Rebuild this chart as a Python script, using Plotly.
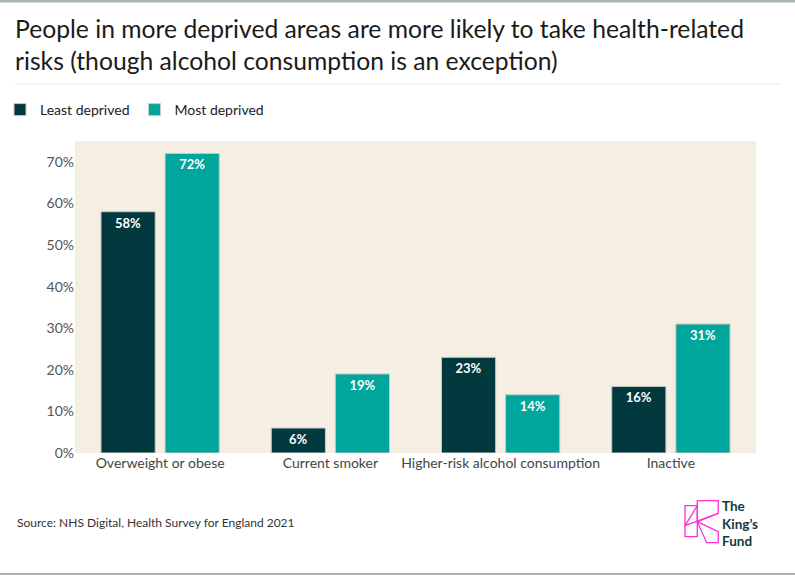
import plotly.graph_objects as go

categories = ["Overweight or obese", "Current smoker", "Higher-risk alcohol consumption", "Inactive"]
least_deprived = [58, 6, 23, 16]
most_deprived = [72, 19, 14, 31]
series_names = ["Least deprived", "Most deprived"]

W, H = 795, 575
L, R, T, B = 75, 39, 141, 122
PW, PH = W - L - R, H - T - B

DARK = "#02393e"
TEAL = "#00a69c"
BG = "#f5eee3"
PINK = "#ff2fd0"
FONT = "Lato"


def px(x, y):
    # pixel position in the page -> paper coordinates
    return (x - L) / PW, (H - B - y) / PH


def path(points):
    pts = [px(x, y) for x, y in points]
    return "M" + " L".join(f"{a:.4f},{b:.4f}" for a, b in pts) + " Z"


fig = go.Figure()
for name, vals, color in [(series_names[0], least_deprived, DARK),
                          (series_names[1], most_deprived, TEAL)]:
    fig.add_trace(go.Bar(
        x=categories, y=vals, name=name,
        marker=dict(color=color, line=dict(color="#c9c9c4", width=1)),
        text=[f"{v}%" for v in vals],
        textposition="inside", insidetextanchor="end",
        textfont=dict(family=FONT, size=13, color="white", weight="bold"),
        hovertemplate="%{x}: %{y}%<extra>" + name + "</extra>",
    ))

shapes = [
    # top and bottom rules
    dict(type="rect", xref="paper", yref="paper", x0=px(0, 0)[0], x1=px(W, 0)[0],
         y0=px(0, 0)[1], y1=px(0, 2.5)[1], fillcolor="#aab3b9", line=dict(width=0)),
    dict(type="rect", xref="paper", yref="paper", x0=px(0, 0)[0], x1=px(W, 0)[0],
         y0=px(0, 573)[1], y1=px(0, 575)[1], fillcolor="#aab3b9", line=dict(width=0)),
    # separator under title
    dict(type="line", xref="paper", yref="paper", x0=px(15, 0)[0], x1=px(781, 0)[0],
         y0=px(0, 84)[1], y1=px(0, 84)[1], line=dict(color="#f1ebdd", width=1)),
]
# King's Fund logo outline
logo = [
    [(685, 505.7), (697.3, 505.7), (697.3, 536.7), (685, 536.7)],
    [(697.3, 500.7), (718.3, 500.7), (718.3, 513.3), (697.3, 521.7)],
    [(697.3, 521.7), (718.3, 531.7), (718.3, 542.7), (706.7, 542.7)],
]
for poly in logo:
    shapes.append(dict(type="path", xref="paper", yref="paper", path=path(poly),
                       line=dict(color=PINK, width=1.3)))
a, b = px(685, 525.7)
c, d = px(718.3, 513.3)
shapes.append(dict(type="line", xref="paper", yref="paper", x0=a, y0=b, x1=c, y1=d,
                   line=dict(color=PINK, width=1.3)))
a2, b2 = px(697.3, 505.7)
shapes.append(dict(type="line", xref="paper", yref="paper", x0=a, y0=b, x1=a2, y1=b2,
                   line=dict(color=PINK, width=1.3)))

sx, sy = px(15, 522)
lx, ly = px(721, 523)
annotations = [
    dict(text="Source: NHS Digital, Health Survey for England 2021",
         xref="paper", yref="paper", x=sx, y=sy, xanchor="left", yanchor="middle",
         showarrow=False, font=dict(family=FONT, size=12, color="#333333")),
    dict(text="<b>The<br>King’s<br>Fund</b>", xref="paper", yref="paper",
         x=lx, y=ly, xanchor="left", yanchor="middle", align="left", showarrow=False,
         borderpad=0, font=dict(family=FONT, size=13.5, color="#0f3a3c")),
]

fig.update_layout(
    width=W, height=H,
    margin=dict(l=L, r=R, t=T, b=B, autoexpand=False),
    paper_bgcolor="white",
    plot_bgcolor=BG,
    font=dict(family=FONT, size=14, color="#444444"),
    title=dict(
        text="People in more deprived areas are more likely to take health-related<br>"
             "risks (though alcohol consumption is an exception)",
        x=15 / W, xanchor="left", y=1 - 38 / H, yanchor="top",
        font=dict(family=FONT, size=24.7, color="#1b1b1b"),
    ),
    barmode="group", bargap=0.247, bargroupgap=0.155,
    legend=dict(orientation="h", xref="container", yref="container",
                x=0, xanchor="left", y=1 - 94 / H, yanchor="top",
                font=dict(family=FONT, size=14, color="#222222"),
                itemclick=False, traceorder="normal", bgcolor="rgba(0,0,0,0)"),
    xaxis=dict(showgrid=False, showline=False, ticks="",
               tickfont=dict(family=FONT, size=14, color="#444444")),
    yaxis=dict(range=[0, 75], dtick=10, ticksuffix="%", showgrid=False, zeroline=False,
               showline=False, ticks="", tickfont=dict(family=FONT, size=14, color="#555555")),
    shapes=shapes,
    annotations=annotations,
)

fig.write_html("out.html", config={"displayModeBar": False},
               post_script="document.body.style.margin='0';")
